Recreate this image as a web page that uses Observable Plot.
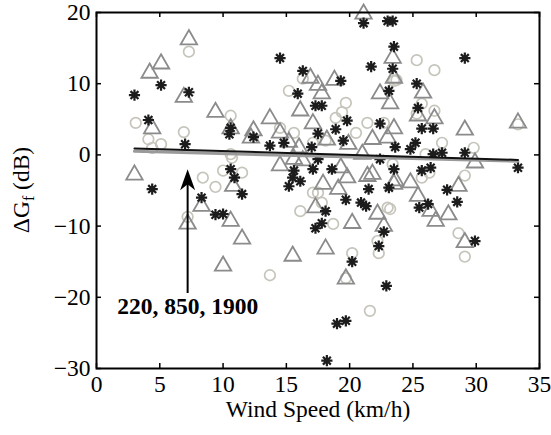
<!DOCTYPE html>
<html><head><meta charset="utf-8">
<script src="https://cdn.jsdelivr.net/npm/d3@7"></script>
<script src="https://cdn.jsdelivr.net/npm/@observablehq/plot@0.6"></script>
<style>
body{margin:0;background:#fff}
svg, svg text{font-family:"Liberation Serif","Times New Roman",serif !important}
</style>
</head><body><div id="chart"></div>
<script>
// Black asterisks
const starX = [3.0,5.1,7.3,4.1,10.6,21.1,23.0,23.4,14.5,23.5,21.7,23.4,16.3,19.3,15.9,23.1,17.3,17.8,19.8,22.4,18.9,17.5,12.4,29.1,25.3,25.4,25.7,26.6,10.5,7.0,4.4,10.6,10.9,11.5,8.3,9.4,10.0,13.7,14.8,17.0,19.5,17.5,15.6,17.1,18.6,15.5,16.1,15.2,19.7,20.9,21.3,18.1,17.8,17.3,21.5,23.1,23.5,22.4,23.6,22.7,22.3,24.8,25.2,26.6,27.3,29.1,33.3,25.7,26.4,27.7,28.5,25.5,26.2,29.9,20.2,22.9,19.0,19.7,18.2];
const starY = [8.4,9.8,8.8,4.9,3.8,18.5,18.8,18.8,13.6,15.2,12.4,12.1,11.8,10.4,8.6,9.0,6.9,6.9,4.8,4.4,3.6,3.0,2.5,13.6,10.0,6.6,3.7,3.7,2.9,1.5,-4.8,-2.0,-3.2,-5.5,-6.0,-8.4,-8.3,1.3,1.7,1.1,2.0,-0.6,-2.2,-2.0,-2.0,-3.2,-3.7,-4.4,-6.3,-6.7,-7.2,-7.9,-9.6,-10.3,-4.8,-4.6,-2.0,-0.6,1.1,-10.8,-12.8,0.8,1.7,0.1,0.3,0.3,-1.8,-2.2,-1.8,-4.9,-6.6,-7.4,-6.9,-12.1,-15.0,-18.4,-23.7,-23.3,-28.9];
// Gray triangles
const triX = [7.3,5.1,4.2,6.9,9.4,4.4,10.6,21.1,23.4,16.9,17.5,18.8,17.8,22.4,23.2,23.5,16.1,13.7,17.1,12.4,14.5,23.5,25.8,25.4,26.7,29.1,33.3,3.0,12.2,10.8,8.3,7.2,10.6,11.5,15.2,16.0,18.2,19.9,21.0,21.8,23.0,14.5,15.6,16.3,19.3,19.8,21.4,21.8,17.9,19.1,17.3,20.2,22.2,22.7,18.1,15.5,23.5,29.9,23.6,24.8,25.4,28.6,26.4,26.8,27.8,29.1,19.7,10.0];
const triY = [16.2,12.8,11.5,8.1,6.0,3.7,3.7,19.8,13.6,10.8,9.8,10.5,8.6,8.6,7.2,10.8,6.2,5.1,4.4,3.4,3.1,3.7,8.7,5.5,5.1,3.5,4.5,-2.8,2.4,-4.4,-7.2,-9.7,-9.3,-11.8,1.8,1.0,2.1,1.5,0.1,2.2,2.4,-1.5,-0.6,-0.8,-1.8,-3.2,-3.0,-2.7,-4.1,-4.8,-7.4,-9.6,-8.3,-10.0,-13.2,-14.2,-4.1,-1.1,-3.6,-3.9,-5.8,-4.4,-7.9,-9.3,-8.4,-12.3,-17.4,-15.6];
// Light gray circles
const circX = [7.3,3.1,10.6,6.9,15.2,16.3,19.7,19.4,18.9,21.4,14.5,15.6,23.5,22.7,20.5,25.3,26.7,23.7,25.7,25.3,26.7,33.3,4.1,5.1,4.4,10.6,10.7,8.4,9.4,10.0,11.5,7.2,17.1,18.1,17.1,17.5,16.1,18.7,23.0,22.2,20.2,17.8,23.4,27.3,29.8,26.0,26.3,25.7,29.1,28.6,29.1,13.7,22.3,19.7,21.6,23.2];
const circY = [14.5,4.5,5.5,3.2,9.0,10.7,7.3,6.0,5.2,4.5,3.8,3.1,10.4,4.5,3.1,13.3,11.9,10.5,7.2,5.8,6.2,4.3,2.2,1.5,1.0,0.1,-0.4,-3.2,-4.5,-2.2,-2.5,-8.7,1.7,2.0,-5.3,-5.3,-7.9,-9.7,-7.4,-12.1,-13.8,-6.7,-1.3,1.7,1.0,0.1,-2.5,-3.2,-2.9,-11.0,-14.3,-16.9,-13.8,-17.3,-21.9,-7.6];
// Fit lines (endpoints)
const fitX = [3.0, 33.3];
const fitBlackY = [0.9, -0.7];
const fitGrayY = [0.5, -0.9];
// Annotation
const annText = "220, 850, 1900";
const annX = 7.2;
const annArrowY = [-19.4, -2.0];
const annTextY = -21.3;
// Axes
const xTicks = [0,5,10,15,20,25,30,35];
const yTicks = [-30,-20,-10,0,10,20];
const xLabel = "Wind Speed (km/h)";

const zip = (xs, ys) => xs.map((x, i) => ({x, y: ys[i]}));
const stars = zip(starX, starY), tris = zip(triX, triY), circs = zip(circX, circY);
const blackLine = zip(fitX, fitBlackY), grayLine = zip(fitX, fitGrayY);

const asterisk8 = {
  draw(ctx, size) {
    const r = Math.sqrt(size / Math.PI);
    const d = r * Math.SQRT1_2;
    ctx.moveTo(-r, 0); ctx.lineTo(r, 0);
    ctx.moveTo(0, -r); ctx.lineTo(0, r);
    ctx.moveTo(-d, -d); ctx.lineTo(d, d);
    ctx.moveTo(-d, d); ctx.lineTo(d, -d);
  }
};
const arrowHead = {
  draw(ctx) {
    ctx.moveTo(0, 0); ctx.lineTo(7.5, 21); ctx.lineTo(0, 15); ctx.lineTo(-7.5, 21); ctx.closePath();
  }
};
const fmt = d => d < 0 ? "\u2212" + Math.abs(d) : String(d);

const FONT = '"Liberation Serif", "Times New Roman", serif';
const FS = 23.5;
const W = 551, H = 435, mL = 96, mR = 12, mT = 12, mB = 67;
const pW = W - mL - mR, pH = H - mT - mB;

const chart = Plot.plot({
  width: W, height: H,
  marginLeft: mL, marginRight: mR, marginTop: mT, marginBottom: mB,
  style: {fontFamily: FONT, fontSize: FS + "px", background: "white", color: "black"},
  x: {domain: [0, 35]},
  y: {domain: [-30, 20]},
  marks: [
    Plot.axisX(xTicks, {tickSize: 0, tickPadding: 7, tickFormat: fmt, label: null, fontSize: FS}),
    Plot.axisY(yTicks, {tickSize: 0, tickPadding: 6, tickFormat: fmt, label: null, fontSize: FS}),
    Plot.dot(circs, {x: "x", y: "y", r: 5.3, symbol: "circle", stroke: "#c6c4bb", strokeWidth: 1.7, fill: "none"}),
    Plot.dot(tris, {x: "x", y: "y", r: 6.1, symbol: "triangle", stroke: "#8b8b8b", strokeWidth: 1.8, fill: "none"}),
    Plot.dot(stars, {x: "x", y: "y", r: 5.6, symbol: asterisk8, stroke: "#1c1c1c", strokeWidth: 2.2, fill: "none"}),
    Plot.line(grayLine, {x: "x", y: "y", stroke: "#9a9a9a", strokeWidth: 3}),
    Plot.line(blackLine, {x: "x", y: "y", stroke: "#111", strokeWidth: 2}),
    Plot.link([annX], {x1: d => d, x2: d => d, y1: annArrowY[0], y2: annArrowY[1] - 1.5, stroke: "black", strokeWidth: 2}),
    Plot.dot([annX], {x: d => d, y: annArrowY[1], symbol: arrowHead, fill: "black", stroke: "none"}),
    Plot.text([annText], {x: annX, y: annTextY, text: d => d, fontWeight: "bold", fontSize: FS, fill: "black", fontFamily: FONT}),
    Plot.text([xLabel], {frameAnchor: "bottom", dy: 48, text: d => d, fontSize: FS, fill: "black", fontFamily: FONT}),
    Plot.tickX(xTicks, {x: d => d, insetTop: pH - 5, stroke: "black", strokeWidth: 1.5}),
    Plot.tickX(xTicks, {x: d => d, insetBottom: pH - 5, stroke: "black", strokeWidth: 1.5}),
    Plot.tickY(yTicks, {y: d => d, insetRight: pW - 5, stroke: "black", strokeWidth: 1.5}),
    Plot.tickY(yTicks, {y: d => d, insetLeft: pW - 5, stroke: "black", strokeWidth: 1.5}),
    Plot.frame({stroke: "black", strokeWidth: 2})
  ]
});
document.getElementById("chart").appendChild(chart);

// Y-axis title with subscript
const svg = d3.select(chart);
const yl = svg.append("text")
  .attr("transform", `translate(29,${mT + pH / 2}) rotate(-90)`)
  .attr("text-anchor", "middle")
  .attr("font-size", FS)
  .attr("font-family", FONT)
  .attr("fill", "black");
yl.append("tspan").text("\u0394G");
yl.append("tspan").attr("dy", 5).attr("font-size", 16).text("f");
yl.append("tspan").attr("dy", -5).text(" (dB)");
</script>
</body></html>
